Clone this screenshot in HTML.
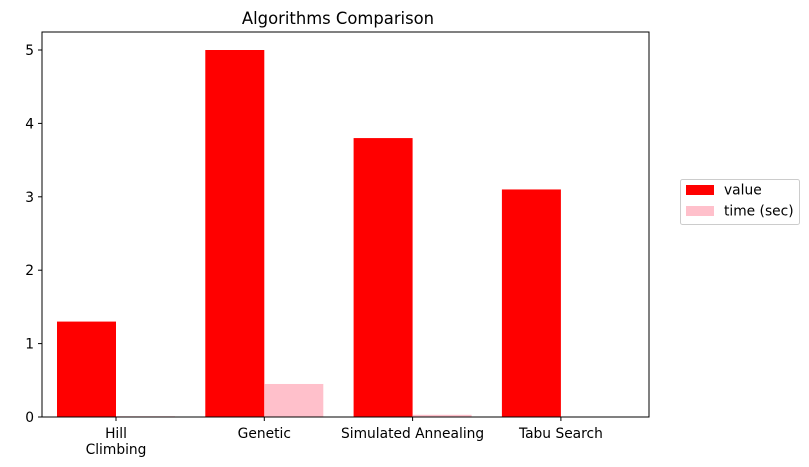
<!DOCTYPE html>
<html><head><meta charset="utf-8"><style>
body{margin:0;background:#fff;font-family:"DejaVu Sans","Liberation Sans",sans-serif;}
</style></head><body>
<svg width="809" height="467" id="c" style="display:block">
<text x="338" y="24" text-anchor="middle" font-size="16.4">Algorithms Comparison</text>
<g id="plot"></g>
<rect x="42" y="32" width="607" height="385" fill="none" stroke="#000" stroke-width="1"/>
<g>
<rect x="680.5" y="179.5" width="119" height="45" fill="#fff" stroke="#ccc" rx="2"/>
<rect x="686" y="185" width="28" height="10" fill="red"/>
<text x="724" y="194.5" font-size="13.8">value</text>
<rect x="686" y="206" width="28" height="10" fill="pink"/>
<text x="724" y="215.5" font-size="13.8">time (sec)</text>
</g>
</svg>
<script>
const categories=[["Hill","Climbing"],["Genetic"],["Simulated Annealing"],["Tabu Search"]];
const values=[1.3,5.0,3.8,3.1];
const times=[0.01,0.45,0.03,0.0];
const yTicks=[0,1,2,3,4,5];
const ns="http://www.w3.org/2000/svg";
const g=document.getElementById('plot');
const y=v=>417-v*73.4;
const xc=i=>116+i*148.3;
const bw=59;
function mk(t,a){const e=document.createElementNS(ns,t);for(const k in a)e.setAttribute(k,a[k]);g.appendChild(e);return e;}
yTicks.forEach(t=>{
 const l=mk('line',{x1:38,x2:42,y1:y(t),y2:y(t),stroke:'#000'});
 
 
 const tx=mk('text',{x:34,y:y(t)+5,'text-anchor':'end','font-size':13.8});
 tx.textContent=t;
 
 
});
categories.forEach((c,i)=>{
 const r=mk('rect',{x:xc(i)-bw,y:y(values[i]),width:bw,height:417-y(values[i]),fill:'red'});
 
 
 const r2=mk('rect',{x:xc(i),y:y(times[i]),width:bw,height:417-y(times[i]),fill:'pink'});
 
 
 const l=mk('line',{x1:xc(i),x2:xc(i),y1:417,y2:421,stroke:'#000'});
 
 
 c.forEach((s,j)=>{
  const tx=mk('text',{x:xc(i),y:438+j*16,'text-anchor':'middle','font-size':13.8});
  tx.textContent=s;
  
  
 });
});
</script>
</body></html>
